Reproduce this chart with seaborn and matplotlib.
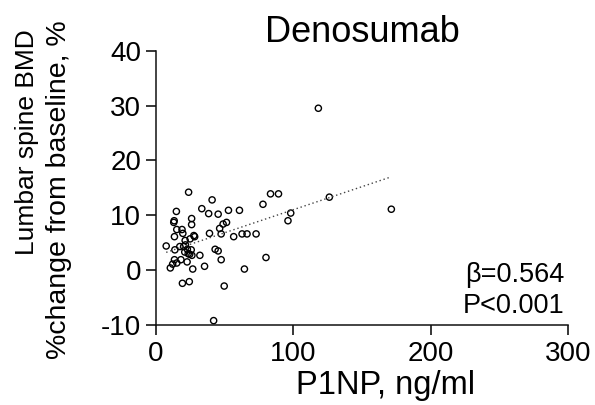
import numpy as np
import pandas as pd
import matplotlib
matplotlib.use("Agg")
import matplotlib.pyplot as plt
import seaborn as sns

# P1NP (ng/ml) vs lumbar spine BMD change (%)
p1np = [7.5, 10.5, 12.2, 13.0, 13.3, 13.5, 13.8, 13.5, 14.9, 15.2,
        15.2, 17.4, 18.2, 19.0, 19.6, 19.3, 20.2, 21.0, 21.3, 21.5,
        22.7, 22.9, 23.8, 23.5, 24.3, 24.6, 24.9, 25.7, 26.0, 26.0,
        26.2, 26.8, 27.6, 28.2, 32.0, 33.4, 35.4, 38.4, 39.0, 40.9,
        42.0, 43.1, 45.3, 45.3, 46.4, 47.5, 47.5, 48.9, 49.7, 51.4,
        52.8, 56.6, 60.8, 62.7, 64.4, 66.3, 72.9, 77.9, 80.1, 83.4,
        89.2, 96.1, 98.1, 118.2, 126.2, 171.3]
bmd_change = [4.4, 0.4, 1.1, 8.7, 9.0, 6.1, 3.7, 1.9, 10.7, 1.3,
              7.4, 4.3, 1.9, 7.4, 6.7, -2.4, 4.3, 3.3, 5.4, 4.6,
              1.5, 3.8, 14.2, 3.0, -2.1, 2.9, 5.7, 3.7, 9.4, 8.3,
              2.7, 0.2, 6.3, 6.1, 2.7, 11.2, 0.7, 10.3, 6.7, 12.8,
              -9.2, 3.8, 10.2, 3.5, 7.6, 1.9, 6.6, 8.4, -2.9, 8.7,
              10.9, 6.1, 10.9, 6.6, 0.2, 6.6, 6.6, 12.0, 2.3, 13.9,
              13.9, 9.0, 10.4, 29.5, 13.3, 11.1]

x_ticks = [0, 100, 200, 300]
y_ticks = [-10, 0, 10, 20, 30, 40]

df = pd.DataFrame({"p1np": p1np, "bmd": bmd_change})

sns.set_style("ticks")
plt.rcParams["font.family"] = ["Liberation Sans", "DejaVu Sans"]
plt.rcParams["axes.unicode_minus"] = False
plt.rcParams["text.color"] = "black"
plt.rcParams["xtick.color"] = "black"
plt.rcParams["ytick.color"] = "black"

fig = plt.figure(figsize=(5.95, 4.05), dpi=100)
ax = fig.add_axes([0.262, 0.1975, 0.693, 0.6775])

sns.regplot(data=df, x="p1np", y="bmd", scatter=False, ci=None, truncate=True,
            line_kws=dict(color="#444444", lw=1.0, ls=(0, (1, 2))), ax=ax)
sns.scatterplot(data=df, x="p1np", y="bmd", s=20, color="black",
                facecolors="none", edgecolor="black", linewidth=1.0, ax=ax)

ax.set_xlim(0, 300)
ax.set_ylim(-10, 40)
ax.set_xticks(x_ticks)
ax.set_yticks(y_ticks)
ax.tick_params(axis="both", labelsize=20, length=7.5, width=1.1, colors="black", pad=3)
ax.tick_params(axis="x", pad=4)
for side in ["top", "right"]:
    ax.spines[side].set_visible(False)
for side in ["left", "bottom"]:
    ax.spines[side].set_linewidth(1.1)
    ax.spines[side].set_color("#111111")

ax.set_xlabel("")
ax.set_ylabel("")
ax.set_title("Denosumab", fontsize=26, pad=6)
fig.text(386 / 595, 1 - 394 / 405, "P1NP, ng/ml", fontsize=23.5, ha="center", va="baseline")
fig.text(27 / 595, 1 - 142 / 405, "Lumbar spine BMD", fontsize=19, rotation=90,
         ha="center", va="center")
fig.text(59 / 595, 1 - 190 / 405, "%change from baseline, %", fontsize=20.5, rotation=90,
         ha="center", va="center")

ax.text(297, -2.1, "β=0.564", fontsize=19.5, ha="right", va="baseline")
ax.text(297, -7.8, "P<0.001", fontsize=19.5, ha="right", va="baseline")

plt.savefig("out.png", dpi=100)
plt.close()
